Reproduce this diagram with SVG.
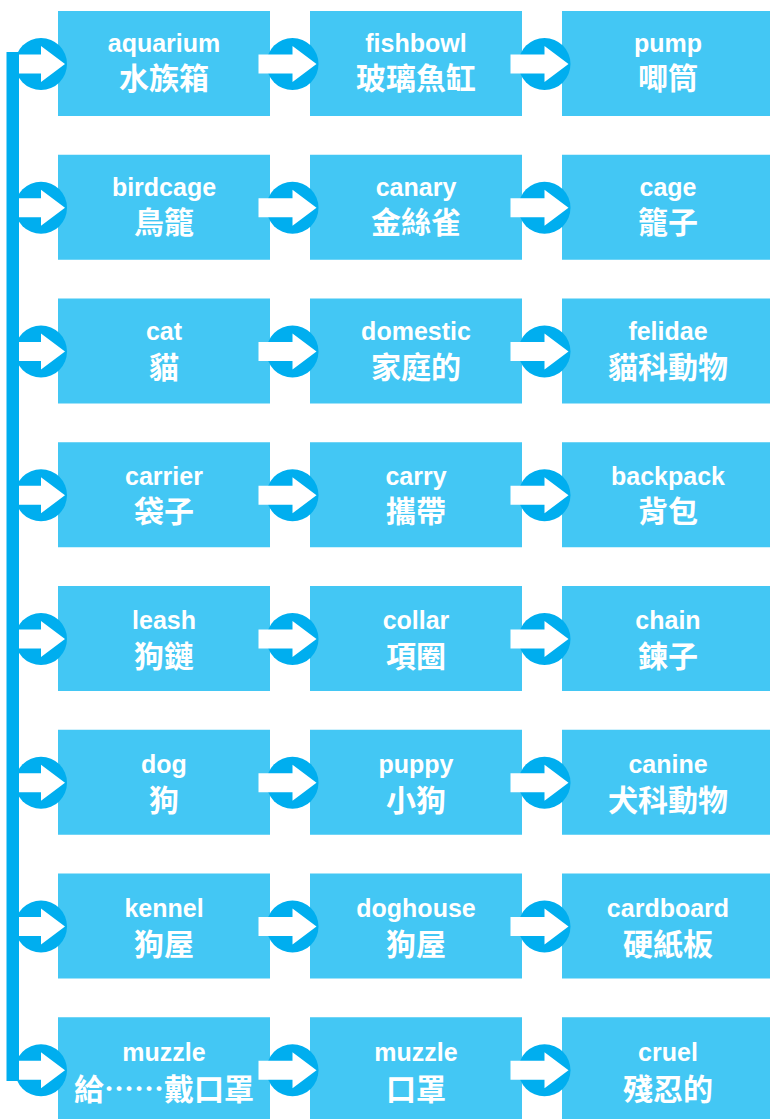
<svg xmlns="http://www.w3.org/2000/svg" xmlns:xlink="http://www.w3.org/1999/xlink" width="770" height="1119" viewBox="0 0 770 1119">
<style>
.box{fill:#43C7F4}
.en{font-family:"Liberation Sans",Arial,sans-serif;font-weight:bold;font-size:25px;fill:#fff;text-anchor:middle}
.zh{font-family:"Noto Sans CJK TC","Noto Sans CJK SC",sans-serif;font-weight:bold;font-size:30px;fill:#fff;text-anchor:middle}
.c{fill:#00AEEF}
</style>
<defs>
<g id="arr"><circle class="c" cx="0" cy="0" r="26"/><polygon fill="#fff" points="-34,-9.5 0,-9.5 0,-18 24,0 0,18 0,9.5 -34,9.5"/></g>
</defs>
<rect width="770" height="1119" fill="#fff"/>
<g id="r0">
<g id="n0a"><rect class="box" x="58" y="11" width="212" height="105"/><text class="en" x="164" y="52">aquarium</text><text class="zh" x="164" y="89">水族箱</text></g>
<g id="n0b"><rect class="box" x="310" y="11" width="212" height="105"/><text class="en" x="416" y="52">fishbowl</text><text class="zh" x="416" y="89">玻璃魚缸</text></g>
<g id="n0c"><rect class="box" x="562" y="11" width="212" height="105"/><text class="en" x="668" y="52">pump</text><text class="zh" x="668" y="89">唧筒</text></g>
</g>
<g id="r1">
<g id="n1a"><rect class="box" x="58" y="154.75" width="212" height="105"/><text class="en" x="164" y="196.2">birdcage</text><text class="zh" x="164" y="233.4">鳥籠</text></g>
<g id="n1b"><rect class="box" x="310" y="154.75" width="212" height="105"/><text class="en" x="416" y="196.2">canary</text><text class="zh" x="416" y="233.4">金絲雀</text></g>
<g id="n1c"><rect class="box" x="562" y="154.75" width="212" height="105"/><text class="en" x="668" y="196.2">cage</text><text class="zh" x="668" y="233.4">籠子</text></g>
</g>
<g id="r2">
<g id="n2a"><rect class="box" x="58" y="298.5" width="212" height="105"/><text class="en" x="164" y="340.4">cat</text><text class="zh" x="164" y="377.8">貓</text></g>
<g id="n2b"><rect class="box" x="310" y="298.5" width="212" height="105"/><text class="en" x="416" y="340.4">domestic</text><text class="zh" x="416" y="377.8">家庭的</text></g>
<g id="n2c"><rect class="box" x="562" y="298.5" width="212" height="105"/><text class="en" x="668" y="340.4">felidae</text><text class="zh" x="668" y="377.8">貓科動物</text></g>
</g>
<g id="r3">
<g id="n3a"><rect class="box" x="58" y="442.25" width="212" height="105"/><text class="en" x="164" y="484.6">carrier</text><text class="zh" x="164" y="522.2">袋子</text></g>
<g id="n3b"><rect class="box" x="310" y="442.25" width="212" height="105"/><text class="en" x="416" y="484.6">carry</text><text class="zh" x="416" y="522.2">攜帶</text></g>
<g id="n3c"><rect class="box" x="562" y="442.25" width="212" height="105"/><text class="en" x="668" y="484.6">backpack</text><text class="zh" x="668" y="522.2">背包</text></g>
</g>
<g id="r4">
<g id="n4a"><rect class="box" x="58" y="586" width="212" height="105"/><text class="en" x="164" y="628.8">leash</text><text class="zh" x="164" y="666.6">狗鏈</text></g>
<g id="n4b"><rect class="box" x="310" y="586" width="212" height="105"/><text class="en" x="416" y="628.8">collar</text><text class="zh" x="416" y="666.6">項圈</text></g>
<g id="n4c"><rect class="box" x="562" y="586" width="212" height="105"/><text class="en" x="668" y="628.8">chain</text><text class="zh" x="668" y="666.6">鍊子</text></g>
</g>
<g id="r5">
<g id="n5a"><rect class="box" x="58" y="729.75" width="212" height="105"/><text class="en" x="164" y="773">dog</text><text class="zh" x="164" y="811">狗</text></g>
<g id="n5b"><rect class="box" x="310" y="729.75" width="212" height="105"/><text class="en" x="416" y="773">puppy</text><text class="zh" x="416" y="811">小狗</text></g>
<g id="n5c"><rect class="box" x="562" y="729.75" width="212" height="105"/><text class="en" x="668" y="773">canine</text><text class="zh" x="668" y="811">犬科動物</text></g>
</g>
<g id="r6">
<g id="n6a"><rect class="box" x="58" y="873.5" width="212" height="105"/><text class="en" x="164" y="917.2">kennel</text><text class="zh" x="164" y="955.4">狗屋</text></g>
<g id="n6b"><rect class="box" x="310" y="873.5" width="212" height="105"/><text class="en" x="416" y="917.2">doghouse</text><text class="zh" x="416" y="955.4">狗屋</text></g>
<g id="n6c"><rect class="box" x="562" y="873.5" width="212" height="105"/><text class="en" x="668" y="917.2">cardboard</text><text class="zh" x="668" y="955.4">硬紙板</text></g>
</g>
<g id="r7">
<g id="n7a"><rect class="box" x="58" y="1017.25" width="212" height="105"/><text class="en" x="164" y="1061.4">muzzle</text><text class="zh" x="164" y="1099.8">給……戴口罩</text></g>
<g id="n7b"><rect class="box" x="310" y="1017.25" width="212" height="105"/><text class="en" x="416" y="1061.4">muzzle</text><text class="zh" x="416" y="1099.8">口罩</text></g>
<g id="n7c"><rect class="box" x="562" y="1017.25" width="212" height="105"/><text class="en" x="668" y="1061.4">cruel</text><text class="zh" x="668" y="1099.8">殘忍的</text></g>
</g>
<g id="connectors">
<use xlink:href="#arr" x="41" y="64"/><use xlink:href="#arr" x="292.5" y="64"/><use xlink:href="#arr" x="544.5" y="64"/>
<use xlink:href="#arr" x="41" y="207.75"/><use xlink:href="#arr" x="292.5" y="207.75"/><use xlink:href="#arr" x="544.5" y="207.75"/>
<use xlink:href="#arr" x="41" y="351.5"/><use xlink:href="#arr" x="292.5" y="351.5"/><use xlink:href="#arr" x="544.5" y="351.5"/>
<use xlink:href="#arr" x="41" y="495.25"/><use xlink:href="#arr" x="292.5" y="495.25"/><use xlink:href="#arr" x="544.5" y="495.25"/>
<use xlink:href="#arr" x="41" y="639"/><use xlink:href="#arr" x="292.5" y="639"/><use xlink:href="#arr" x="544.5" y="639"/>
<use xlink:href="#arr" x="41" y="782.75"/><use xlink:href="#arr" x="292.5" y="782.75"/><use xlink:href="#arr" x="544.5" y="782.75"/>
<use xlink:href="#arr" x="41" y="926.5"/><use xlink:href="#arr" x="292.5" y="926.5"/><use xlink:href="#arr" x="544.5" y="926.5"/>
<use xlink:href="#arr" x="41" y="1070.25"/><use xlink:href="#arr" x="292.5" y="1070.25"/><use xlink:href="#arr" x="544.5" y="1070.25"/>
<rect class="c" x="6.5" y="52" width="12.5" height="1029"/>
</g>
</svg>
